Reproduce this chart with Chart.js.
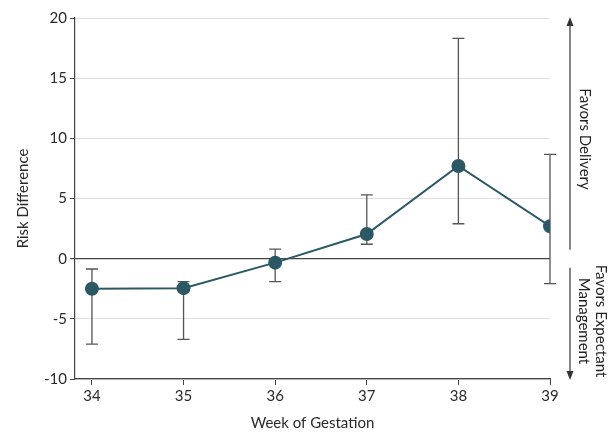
<!DOCTYPE html>
<html>
<head>
<meta charset="utf-8">
<script src="https://cdn.jsdelivr.net/npm/chart.js@4"></script>
<style>
  html, body { margin: 0; padding: 0; background: #fff; }
  #wrap { width: 616px; height: 432px; }
</style>
</head>
<body>
<div id="wrap"><canvas id="chart" width="616" height="432"></canvas></div>
<script>
// data
const weeks = [34, 35, 36, 37, 38, 39];
const riskDiff = [-2.5, -2.45, -0.33, 2.05, 7.7, 2.7];
const ciLow = [-7.1, -6.7, -1.9, 1.2, 2.9, -2.08];
const ciHigh = [-0.86, -1.9, 0.8, 5.3, 18.3, 8.67];
const yTicks = [-10, -5, 0, 5, 10, 15, 20];

const FONT = "Lato, 'Open Sans', sans-serif";
const lineColor = '#2c5866';
const axisColor = '#444';

// whiskers for the confidence intervals
const errorBars = {
    id: 'errorBars',
    beforeDatasetsDraw(chart) {
        const x = chart.scales.x, y = chart.scales.y, c = chart.ctx;
        c.save();
        c.strokeStyle = '#555';
        c.lineWidth = 1.3;
        weeks.forEach((w, i) => {
            const px = x.getPixelForValue(w);
            const top = y.getPixelForValue(ciHigh[i]);
            const bot = y.getPixelForValue(ciLow[i]);
            c.beginPath();
            c.moveTo(px, top); c.lineTo(px, bot);
            c.moveTo(px - 6, top); c.lineTo(px + 6, top);
            c.moveTo(px - 6, bot); c.lineTo(px + 6, bot);
            c.stroke();
        });
        c.restore();
    }
};

// arrows and labels on the right side
const sideNotes = {
    id: 'sideNotes',
    afterDraw(chart) {
        const y = chart.scales.y, c = chart.ctx;
        const ax = 570;
        const top = y.getPixelForValue(20), zero = y.getPixelForValue(0), bot = y.getPixelForValue(-10);
        c.save();
        c.strokeStyle = '#333';
        c.fillStyle = '#333';
        c.lineWidth = 1.2;
        c.beginPath();
        c.moveTo(ax, zero - 9); c.lineTo(ax, top + 4);
        c.moveTo(ax, zero + 9); c.lineTo(ax, bot - 4);
        c.stroke();
        c.beginPath();
        c.moveTo(ax, top - 1); c.lineTo(ax - 3.5, top + 8); c.lineTo(ax + 3.5, top + 8); c.closePath();
        c.fill();
        c.beginPath();
        c.moveTo(ax, bot + 1); c.lineTo(ax - 3.5, bot - 8); c.lineTo(ax + 3.5, bot - 8); c.closePath();
        c.fill();

        c.fillStyle = '#222';
        c.font = '15px ' + FONT;
        c.textAlign = 'center';
        c.textBaseline = 'middle';
        const label = (txt, x, yy) => {
            c.save();
            c.translate(x, yy);
            c.rotate(Math.PI / 2);
            c.fillText(txt, 0, 0);
            c.restore();
        };
        label('Favors Delivery', 585, 139);
        label('Favors Expectant', 601, 321);
        label('Management', 584, 321);
        c.restore();
    }
};

new Chart(document.getElementById('chart'), {
    type: 'line',
    data: {
        datasets: [{
            data: weeks.map((w, i) => ({ x: w, y: riskDiff[i] })),
            borderColor: lineColor,
            backgroundColor: lineColor,
            borderWidth: 2,
            pointRadius: 6,
            pointBackgroundColor: lineColor,
            pointBorderColor: lineColor,
            tension: 0
        }]
    },
    options: {
        responsive: false,
        animation: false,
        layout: { padding: { top: 18, right: 66, left: 0, bottom: 0 } },
        plugins: { legend: { display: false }, tooltip: { enabled: false } },
        scales: {
            x: {
                type: 'linear',
                min: 33.815,
                max: 39,
                afterBuildTicks: s => { s.ticks = weeks.map(v => ({ value: v })); },
                afterFit: s => { s.height = 53; },
                grid: { drawOnChartArea: false, drawTicks: true, tickLength: 6, color: axisColor },
                border: { color: axisColor, width: 1.2 },
                ticks: { color: '#2a2a2a', font: { family: FONT, size: 15 }, padding: 2, maxRotation: 0 },
                title: { display: true, text: 'Week of Gestation', color: '#2a2a2a', font: { family: FONT, size: 15 }, padding: { top: 12, bottom: 0 } }
            },
            y: {
                min: -10,
                max: 20,
                afterBuildTicks: s => { s.ticks = yTicks.map(v => ({ value: v })); },
                afterFit: s => { s.width = 75; },
                grid: {
                    color: c => c.tick && c.tick.value === 0 ? axisColor : '#dedede',
                    lineWidth: c => c.tick && c.tick.value === 0 ? 1.2 : 1,
                    tickColor: axisColor,
                    tickLength: 5
                },
                border: { color: axisColor, width: 1.2 },
                ticks: { color: '#2a2a2a', font: { family: FONT, size: 15 }, padding: 3 },
                title: { display: true, text: 'Risk Difference', color: '#2a2a2a', font: { family: FONT, size: 15 }, padding: { top: 14, bottom: 0 } }
            }
        }
    },
    plugins: [errorBars, sideNotes]
});
</script>
</body>
</html>
